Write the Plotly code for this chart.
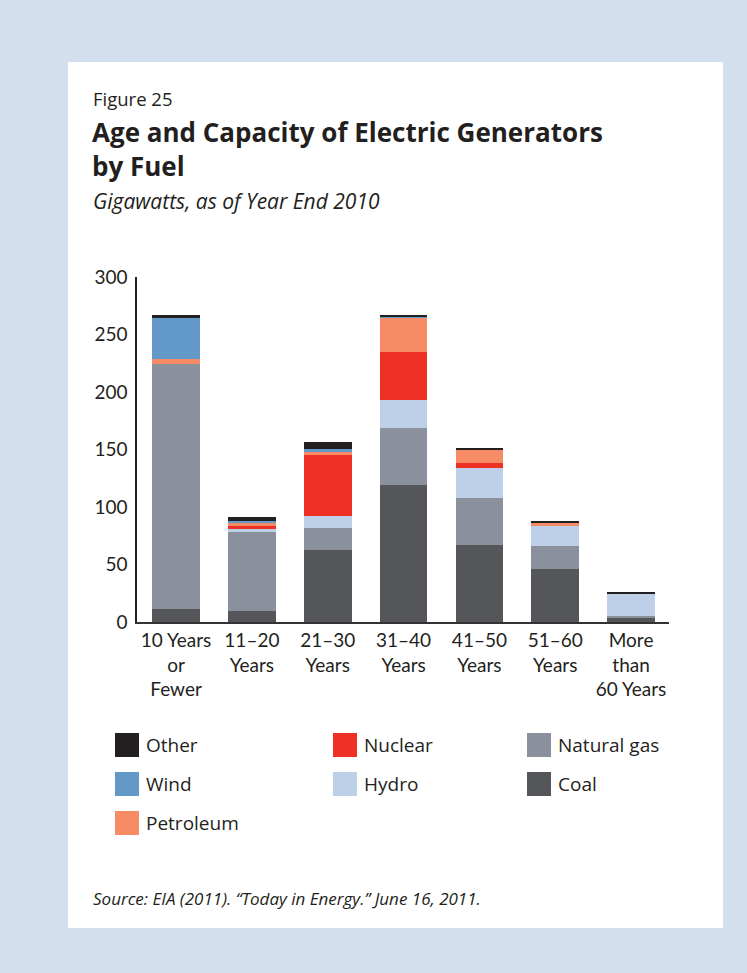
import plotly.graph_objects as go

# Age bands of generators (x categories)
categories = [
    "10 Years<br>or<br>Fewer",
    "11–20<br>Years",
    "21–30<br>Years",
    "31–40<br>Years",
    "41–50<br>Years",
    "51–60<br>Years",
    "More<br>than<br>60 Years",
]

# Capacity by fuel, gigawatts (stacked bottom to top)
coal = [11, 10, 62.6, 119, 67, 46, 3.5]
natural_gas = [213, 68.7, 19, 49.6, 41, 20, 1.7]
hydro = [0, 2.6, 10.5, 24.3, 26, 17.4, 20]
nuclear = [0, 2.6, 53, 42, 4.4, 0, 0]
petroleum = [5, 2.3, 3.5, 30, 11.3, 3.5, 0]
wind = [35.5, 1.7, 1.7, 0.8, 0, 0, 0]
other = [2.6, 3.5, 6, 1.2, 0.9, 0.9, 0.9]

y_ticks = [0, 50, 100, 150, 200, 250, 300]

series = [
    ("Coal", coal, "#55565a"),
    ("Natural gas", natural_gas, "#8a909c"),
    ("Hydro", hydro, "#bdd0e7"),
    ("Nuclear", nuclear, "#ee3124"),
    ("Petroleum", petroleum, "#f68b66"),
    ("Wind", wind, "#6399c8"),
    ("Other", other, "#231f20"),
]

# Legend layout: columns of fuel names
legend_columns = [["Other", "Wind", "Petroleum"], ["Nuclear", "Hydro"], ["Natural gas", "Coal"]]

TEXT = "#231f20"
FONT = "Lato"
HEAD_FONT = "Open Sans"

fig = go.Figure()
for name, vals, color in series:
    fig.add_trace(go.Bar(
        x=categories, y=vals, name=name,
        marker=dict(color=color, line=dict(width=0)),
        width=0.63, showlegend=False,
    ))

# plot area in pixels
L, R, T, B = 137, 669, 277, 622
W, H = 747, 973


def px(x):
    return (x - L) / (R - L)


def py(y):
    return (B - y) / (B - T)


shapes = [
    # white panel
    dict(type="rect", xref="paper", yref="paper", layer="below",
         x0=px(68), x1=px(723), y0=py(928), y1=py(62),
         fillcolor="white", line=dict(width=0)),
]
annotations = [
    dict(text="Figure 25", x=px(91), y=py(98), xanchor="left", yanchor="middle",
         font=dict(size=18.5, color=TEXT, family=HEAD_FONT)),
    dict(text="<b>Age and Capacity of Electric Generators<br>by Fuel</b>", x=px(90), y=py(149),
         xanchor="left", yanchor="middle", align="left",
         font=dict(size=26, color=TEXT, family=HEAD_FONT)),
    dict(text="<i>Gigawatts, as of Year End 2010</i>", x=px(91), y=py(201),
         xanchor="left", yanchor="middle",
         font=dict(size=21, color=TEXT, family=HEAD_FONT)),
    dict(text="<i>Source: EIA (2011). “Today in Energy.” June 16, 2011.</i>", x=px(91), y=py(898),
         xanchor="left", yanchor="middle",
         font=dict(size=17, color=TEXT, family=HEAD_FONT)),
]

colors = {n: c for n, _, c in series}
col_x = [115, 333, 527]
row_y = [745, 784, 823]
for ci, col in enumerate(legend_columns):
    for ri, name in enumerate(col):
        cx, cy = col_x[ci], row_y[ri]
        shapes.append(dict(type="rect", xref="paper", yref="paper",
                           x0=px(cx), x1=px(cx + 24), y0=py(cy + 12), y1=py(cy - 12),
                           fillcolor=colors[name], line=dict(width=0)))
        annotations.append(dict(text=name, x=px(cx + 29), y=py(cy), xanchor="left", yanchor="middle",
                                font=dict(size=19, color=TEXT, family=HEAD_FONT)))

for a in annotations:
    a.update(xref="paper", yref="paper", showarrow=False)

fig.update_layout(
    width=W, height=H,
    margin=dict(l=L, r=W - R, t=T, b=H - B, pad=0),
    barmode="stack",
    paper_bgcolor="#d3dfee",
    plot_bgcolor="white",
    font=dict(family=FONT, color=TEXT, size=19),
    shapes=shapes,
    annotations=annotations,
    xaxis=dict(range=[-0.515, 6.5], showline=True, linecolor="#333333", linewidth=2,
               ticks="", showgrid=False, zeroline=False, tickfont=dict(size=19, color=TEXT)),
    yaxis=dict(range=[0, 300], tickvals=y_ticks, showline=True, linecolor=TEXT, linewidth=1.5,
               ticks="", showgrid=False, zeroline=False, ticklabelstandoff=4,
               tickfont=dict(size=19, color=TEXT)),
)

fig.write_html("out.html")
